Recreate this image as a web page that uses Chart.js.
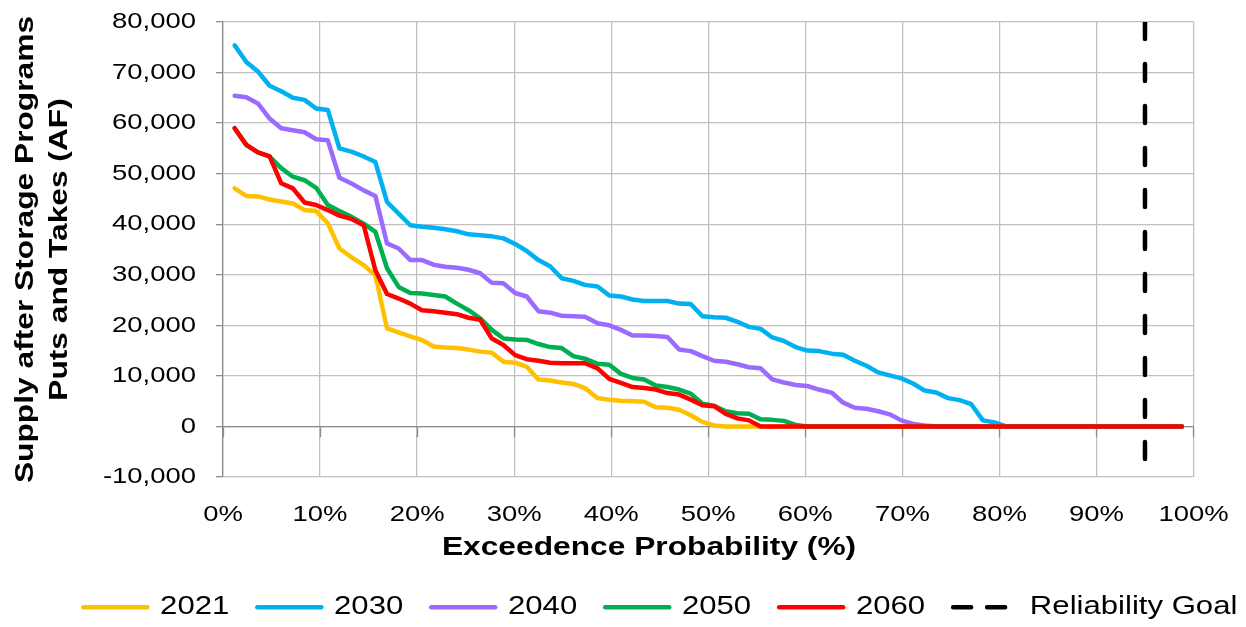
<!DOCTYPE html>
<html>
<head>
<meta charset="utf-8">
<script src="https://cdn.jsdelivr.net/npm/chart.js@4.4.1/dist/chart.umd.min.js"></script>
<style>
  html, body { margin: 0; padding: 0; background: #fff; }
  #supplyChart { display: block; width: 1246px; height: 627px; }
</style>
</head>
<body>
<canvas id="supplyChart" width="1246" height="627"></canvas>
<script>
// exceedence probability (%) of the 82 ranked hydrology years
const exceedence = [
  1.2, 2.4, 3.6, 4.8, 6.0, 7.2, 8.4, 9.6, 10.8, 12.0,
  13.3, 14.5, 15.7, 16.9, 18.1, 19.3, 20.5, 21.7, 22.9, 24.1,
  25.3, 26.5, 27.7, 28.9, 30.1, 31.3, 32.5, 33.7, 34.9, 36.1,
  37.3, 38.6, 39.8, 41.0, 42.2, 43.4, 44.6, 45.8, 47.0, 48.2,
  49.4, 50.6, 51.8, 53.0, 54.2, 55.4, 56.6, 57.8, 59.0, 60.2,
  61.4, 62.7, 63.9, 65.1, 66.3, 67.5, 68.7, 69.9, 71.1, 72.3,
  73.5, 74.7, 75.9, 77.1, 78.3, 79.5, 80.7, 81.9, 83.1, 84.3,
  85.5, 86.7, 88.0, 89.2, 90.4, 91.6, 92.8, 94.0, 95.2, 96.4,
  97.6, 98.8
];

// supply after storage programs puts and takes (AF)
const supply2021 = [
  47100, 45600, 45500, 44900, 44500, 44100, 42800, 42600, 40200, 35200,
  33400, 31900, 29900, 19400, 18600, 17800, 17100, 15800, 15600, 15500,
  15200, 14800, 14600, 12800, 12600, 11800, 9300, 9100, 8700, 8400,
  7600, 5600, 5300, 5100, 5000, 4900, 3800, 3700, 3300, 2200,
  900, 200, 0, 0, 0, 0, 0, 0, 0, 0,
  0, 0, 0, 0, 0, 0, 0, 0, 0, 0,
  0, 0, 0, 0, 0, 0, 0, 0, 0, 0,
  0, 0, 0, 0, 0, 0, 0, 0, 0, 0,
  0, 0
];
const supply2030 = [
  75400, 72100, 70200, 67400, 66300, 65000, 64600, 62900, 62600, 55000,
  54300, 53400, 52300, 44400, 42100, 39800, 39500, 39300, 39000, 38600,
  38000, 37800, 37600, 37200, 36100, 34700, 32900, 31700, 29300, 28800,
  28000, 27700, 25900, 25700, 25100, 24800, 24800, 24800, 24300, 24200,
  21800, 21600, 21500, 20700, 19700, 19300, 17600, 16900, 15700, 15000,
  14900, 14400, 14200, 13000, 12000, 10700, 10100, 9500, 8500, 7100,
  6700, 5600, 5200, 4400, 1200, 800, 0, 0, 0, 0,
  0, 0, 0, 0, 0, 0, 0, 0, 0, 0,
  0, 0
];
const supply2040 = [
  65400, 65100, 63900, 60900, 59000, 58600, 58200, 56800, 56600, 49200,
  48000, 46700, 45600, 36200, 35200, 32900, 32900, 32000, 31600, 31400,
  31000, 30300, 28400, 28300, 26400, 25700, 22800, 22500, 21900, 21800,
  21700, 20400, 20000, 19100, 18000, 18000, 17900, 17700, 15200, 14900,
  13900, 13000, 12800, 12300, 11700, 11500, 9300, 8700, 8200, 8000,
  7300, 6700, 4700, 3700, 3500, 3000, 2400, 1200, 500, 200,
  0, 0, 0, 0, 0, 0, 0, 0, 0, 0,
  0, 0, 0, 0, 0, 0, 0, 0, 0, 0,
  0, 0
];
const supply2050 = [
  59000, 55700, 54200, 53400, 51100, 49400, 48700, 47200, 43800, 42600,
  41400, 40100, 38500, 31300, 27600, 26400, 26300, 26000, 25700, 24300,
  23000, 21400, 19100, 17400, 17200, 17100, 16300, 15700, 15500, 13900,
  13400, 12400, 12200, 10400, 9600, 9300, 8100, 7800, 7300, 6500,
  4500, 4100, 3000, 2600, 2500, 1400, 1300, 1100, 300, 0,
  0, 0, 0, 0, 0, 0, 0, 0, 0, 0,
  0, 0, 0, 0, 0, 0, 0, 0, 0, 0,
  0, 0, 0, 0, 0, 0, 0, 0, 0, 0,
  0, 0
];
const supply2060 = [
  59000, 55700, 54200, 53400, 48100, 47100, 44300, 43800, 42800, 41700,
  41000, 39800, 30900, 26200, 25300, 24300, 23000, 22800, 22500, 22200,
  21500, 21100, 17400, 16100, 14100, 13300, 13000, 12600, 12500, 12500,
  12500, 11500, 9400, 8600, 7800, 7600, 7300, 6600, 6300, 5300,
  4200, 4000, 2500, 1600, 1200, 0, 0, 0, 0, 0,
  0, 0, 0, 0, 0, 0, 0, 0, 0, 0,
  0, 0, 0, 0, 0, 0, 0, 0, 0, 0,
  0, 0, 0, 0, 0, 0, 0, 0, 0, 0,
  0, 0
];

const reliabilityGoal = 95; // % exceedence
const yMin = -10000;
const yMax = 80000;

// the source image draws its Arial text about a fifth wider than normal,
// so stretch every string along its own baseline
const textStretch = 1.22;
const canvas = document.getElementById("supplyChart");
const ctx = canvas.getContext("2d");
const nativeFill = ctx.fillText.bind(ctx);
const nativeMeasure = ctx.measureText.bind(ctx);
ctx.fillText = (text, x, y) => {
  ctx.save();
  ctx.translate(x, y);
  ctx.scale(textStretch, 1);
  nativeFill(text, 0, 0);
  ctx.restore();
};
ctx.measureText = (text) => {
  const m = nativeMeasure(text);
  return {
    width: m.width * textStretch,
    actualBoundingBoxLeft: m.actualBoundingBoxLeft * textStretch,
    actualBoundingBoxRight: m.actualBoundingBoxRight * textStretch,
    actualBoundingBoxAscent: m.actualBoundingBoxAscent,
    actualBoundingBoxDescent: m.actualBoundingBoxDescent,
    fontBoundingBoxAscent: m.fontBoundingBoxAscent,
    fontBoundingBoxDescent: m.fontBoundingBoxDescent,
  };
};

Chart.defaults.font.family = '"Liberation Sans", Arial, sans-serif';
Chart.defaults.color = "#000";

const gridColor = "#c0c0c0";
const axisColor = "#8c8c8c";

function series(label, data, color, order) {
  return {
    label: label,
    data: data,
    borderColor: color,
    backgroundColor: color,
    borderWidth: 4.5,
    borderCapStyle: "round",
    borderJoinStyle: "round",
    pointRadius: 0,
    tension: 0,
    fill: false,
    order: order, // later years sit on top, like the original
  };
}

// x axis title sits left of the plot centre in the original
const xAxisTitle = {
  id: "xAxisTitle",
  afterDraw(chart) {
    const { ctx, chartArea } = chart;
    ctx.save();
    ctx.font = 'bold 26px "Liberation Sans", Arial, sans-serif';
    ctx.fillStyle = "#000";
    ctx.textAlign = "center";
    ctx.textBaseline = "middle";
    ctx.fillText(
      "Exceedence Probability (%)",
      chartArea.left + chartArea.width * 0.439,
      chartArea.bottom + 71
    );
    ctx.restore();
  },
};

const config = {
  type: "line",
  data: {
    labels: exceedence,
    datasets: [
      series("2021", supply2021, "#FFC000", 5),
      series("2030", supply2030, "#00B0F0", 4),
      series("2040", supply2040, "#9B6BFF", 3),
      series("2050", supply2050, "#00B050", 2),
      series("2060", supply2060, "#FF0000", 1),
      {
        label: "Reliability Goal",
        data: [
          { x: reliabilityGoal, y: yMax },
          { x: reliabilityGoal, y: yMin },
        ],
        borderColor: "#000",
        backgroundColor: "#000",
        borderWidth: 4.5,
        borderDash: [17, 25],
        borderCapStyle: "round",
        pointRadius: 0,
        fill: false,
        order: 0,
      },
    ],
  },
  options: {
    responsive: false,
    animation: false,
    layout: {
      padding: { top: 22, right: -19.35, bottom: -3, left: 0 },
    },
    plugins: {
      tooltip: { enabled: false },
      legend: {
        position: "bottom",
        align: "end",
        labels: {
          usePointStyle: true,
          pointStyle: "line",
          pointStyleWidth: 64,
          padding: 28,
          color: "#000",
          font: { size: 25.5 },
          sort: (a, b) => a.datasetIndex - b.datasetIndex,
          generateLabels: (chart) => {
            const items = Chart.defaults.plugins.legend.labels.generateLabels(chart);
            items.forEach((item) => {
              const ds = chart.data.datasets[item.datasetIndex];
              item.lineWidth = ds.borderWidth;
              item.lineCap = "round";
              // shorter dashes so two fit in the legend swatch
              item.lineDash = ds.borderDash ? [18, 16] : [];
            });
            return items;
          },
        },
      },
    },
    scales: {
      x: {
        type: "linear",
        min: 0,
        max: 100,
        ticks: {
          stepSize: 10,
          padding: 24.5,
          maxRotation: 0,
          autoSkip: false,
          font: { size: 22.5 },
          callback: (v) => v + "%",
        },
        grid: { color: gridColor, lineWidth: 1.25, drawTicks: false },
        border: { display: false },
        afterFit: (scale) => {
          scale.height = 89.5;
          scale.paddingRight = 52.5;
        },
      },
      // the horizontal axis line crosses at zero, labels stay at the bottom
      xZero: {
        type: "linear",
        axis: "x",
        position: { y: 0 },
        min: 0,
        max: 100,
        ticks: { stepSize: 10, display: false },
        grid: {
          drawOnChartArea: false,
          drawTicks: true,
          tickLength: 10,
          tickColor: axisColor,
          tickWidth: 1.3,
        },
        border: { color: axisColor, width: 1.3 },
      },
      y: {
        min: yMin,
        max: yMax,
        ticks: {
          stepSize: 10000,
          padding: 20,
          font: { size: 22.5 },
          callback: (v) => v.toLocaleString("en-US"),
        },
        grid: {
          color: gridColor,
          lineWidth: 1.25,
          tickLength: 7,
          tickColor: axisColor,
          tickWidth: 1.3,
        },
        border: { color: axisColor, width: 1.3 },
        title: {
          display: true,
          text: ["Supply after Storage Programs", "Puts and Takes (AF)"],
          font: { size: 26, weight: "bold", lineHeight: 1.3 },
          padding: { top: 9, bottom: 0 },
          color: "#000",
        },
        afterFit: (scale) => {
          scale.width = 223;
          // tick padding is horizontal here, keep it out of the top margin
          scale.paddingTop = 0;
          scale.paddingBottom = 0;
        },
      },
    },
  },
  plugins: [xAxisTitle],
};

new Chart(ctx, config);
</script>
</body>
</html>
